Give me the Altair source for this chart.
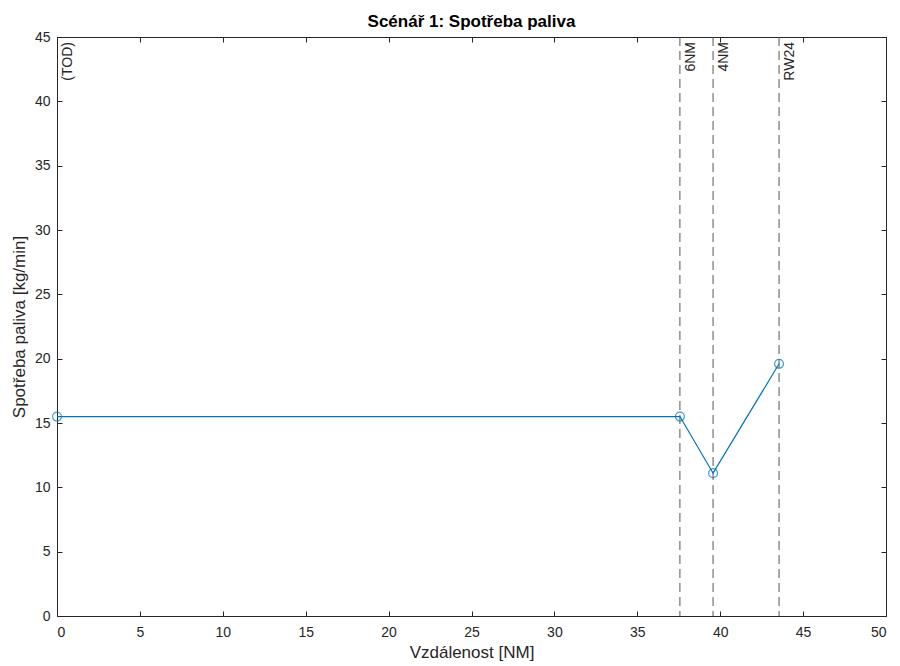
import altair as alt
import pandas as pd

# data
dist = [0, 37.57, 39.57, 43.55]
fuel = [15.5, 15.5, 11.1, 19.6]
marker_dist = [0, 37.57, 39.57, 43.55]
marker_labels = ["(TOD)", "6NM", "4NM", "RW24"]
x_ticks = list(range(0, 51, 5))
y_ticks = list(range(0, 46, 5))

df = pd.DataFrame({"dist": dist, "fuel": fuel})
mk = pd.DataFrame({"dist": marker_dist, "label": marker_labels})

FONT = "Liberation Sans"
TXT = "#262626"
BLUE = "#0072BD"

xs = alt.Scale(domain=[0, 50], nice=False, zero=False)
ys = alt.Scale(domain=[0, 45], nice=False, zero=False)

line = alt.Chart(df).mark_line(color=BLUE, strokeWidth=1.2).encode(
    x=alt.X("dist:Q", scale=xs, axis=alt.Axis(
        orient="bottom", values=x_ticks, title="Vzdálenost [NM]", offset=-5,
        tickSize=5, domain=False, labelPadding=9, titlePadding=5, grid=False)),
    y=alt.Y("fuel:Q", scale=ys, axis=alt.Axis(
        orient="left", values=y_ticks, title="Spotřeba paliva [kg/min]", offset=-5,
        tickSize=5, domain=False, labelPadding=7, titlePadding=6, grid=False)),
)

pts = alt.Chart(df).mark_point(shape="circle", filled=False, color=BLUE, size=80, strokeWidth=1.2).encode(
    x=alt.X("dist:Q", scale=xs, axis=alt.Axis(
        orient="top", values=x_ticks, title=None, labels=False, offset=-5,
        tickSize=5, domain=False, grid=False)),
    y=alt.Y("fuel:Q", scale=ys, axis=alt.Axis(
        orient="right", values=y_ticks, title=None, labels=False, offset=-5,
        tickSize=5, domain=False, grid=False)),
)

rules = alt.Chart(mk).transform_filter("datum.dist > 0").mark_rule(
    color="#555555", strokeDash=[9, 5], strokeWidth=1).encode(
    x=alt.X("dist:Q", scale=xs, axis=None),
)

texts = alt.Chart(mk).mark_text(
    angle=270, align="right", baseline="top", dy=4, font=FONT, fontSize=14, color=TXT
).encode(
    x=alt.X("dist:Q", scale=xs, axis=None),
    y=alt.value(5),
    text="label:N",
)

chart = alt.layer(rules, line, pts, texts).resolve_axis(x="independent", y="independent").properties(
    width=829, height=579,
    background="white",
    padding={"left": 49, "top": 29, "right": 6, "bottom": 50},
    autosize=alt.AutoSizeParams(type="none"),
    title=alt.Title("Scénář 1: Spotřeba paliva", font=FONT, fontSize=17, fontWeight="bold",
                    color="#000000", offset=-1, anchor="middle"),
).configure_view(stroke=TXT, strokeWidth=1).configure_axis(
    labelFont=FONT, titleFont=FONT, labelFontSize=14, titleFontSize=17,
    labelColor=TXT, titleColor=TXT, tickColor=TXT, titleFontWeight="normal",
)

chart.save("out.html", embed_options={"renderer": "svg", "actions": False})
